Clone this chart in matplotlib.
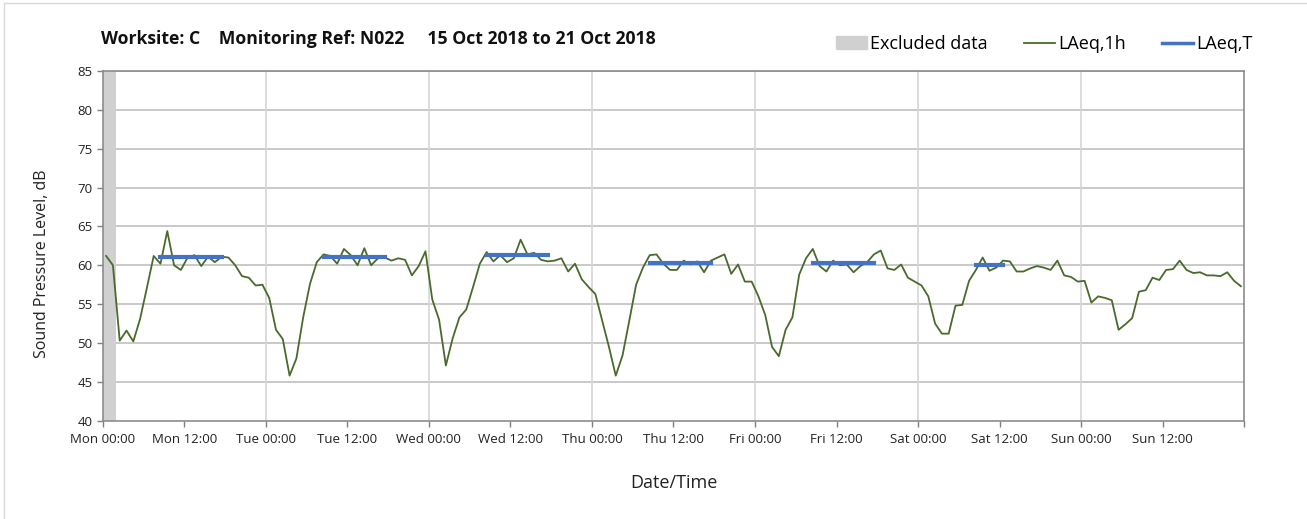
import matplotlib
matplotlib.use("Agg")
import matplotlib.pyplot as plt
import matplotlib.patches as mpatches
from matplotlib.lines import Line2D
import numpy as np

plt.rcParams['font.family'] = ['Open Sans', 'DejaVu Sans']

# hourly LAeq,1h values, Mon 00:00 -> Sun 23:00
laeq_1h = [
    61.2, 60.0, 50.3, 51.6, 50.2, 53.1, 57.1, 61.2, 60.2, 64.4,
    60.0, 59.4, 61.0, 61.3, 59.9, 61.1, 60.4, 61.1, 61.0, 60.0,
    58.6, 58.4, 57.4, 57.5, 55.8, 51.7, 50.5, 45.8, 48.0, 53.3,
    57.6, 60.4, 61.4, 61.2, 60.2, 62.1, 61.3, 60.0, 62.2, 60.0,
    60.9, 61.0, 60.6, 60.9, 60.7, 58.7, 59.9, 61.8, 55.6, 53.0,
    47.1, 50.6, 53.3, 54.3, 57.2, 60.2, 61.7, 60.5, 61.3, 60.4,
    60.9, 63.3, 61.4, 61.6, 60.7, 60.5, 60.6, 60.9, 59.2, 60.2,
    58.2, 57.2, 56.3, 52.9, 49.5, 45.8, 48.4, 52.9, 57.5, 59.7,
    61.3, 61.4, 60.2, 59.4, 59.4, 60.6, 60.1, 60.5, 59.1, 60.6,
    61.0, 61.4, 58.9, 60.1, 57.9, 57.9, 56.0, 53.6, 49.5, 48.3,
    51.7, 53.3, 58.8, 60.9, 62.1, 59.9, 59.2, 60.6, 60.0, 60.1,
    59.1, 59.9, 60.4, 61.4, 61.9, 59.6, 59.4, 60.1, 58.4, 57.9,
    57.4, 56.0, 52.5, 51.2, 51.2, 54.8, 54.9, 58.0, 59.4, 61.0,
    59.3, 59.7, 60.6, 60.5, 59.2, 59.2, 59.6, 59.9, 59.7, 59.4,
    60.6, 58.7, 58.5, 57.9, 58.0, 55.2, 56.0, 55.8, 55.5, 51.7,
    52.4, 53.2, 56.6, 56.8, 58.4, 58.1, 59.4, 59.5, 60.6, 59.4,
    59.0, 59.1, 58.7, 58.7, 58.6, 59.1, 58.0, 57.3,
]

# LAeq,T daytime periods (start hour, end hour, level)
period_start = [8, 32, 56, 80, 104, 128]
period_end = [17, 41, 65, 89, 113, 132]
period_level = [61.1, 61.1, 61.3, 60.3, 60.3, 60.0]

excluded_start = 0
excluded_end = 2

days = ['Mon', 'Tue', 'Wed', 'Thu', 'Fri', 'Sat', 'Sun']
tick_labels = []
for d in days:
    tick_labels.append(d + ' 00:00')
    tick_labels.append(d + ' 12:00')
tick_labels.append('')

green = '#4a6a2c'
blue = '#4472C4'
grey = '#d0d0d0'

fig = plt.figure(figsize=(13.07, 5.19), dpi=100)
ax = fig.add_axes([0.0786, 0.1894, 0.8734, 0.6738])

hours = np.arange(len(laeq_1h)) + 0.5
ax.axvspan(excluded_start, excluded_end, color=grey, lw=0, zorder=1)
ax.plot(hours, laeq_1h, color=green, lw=1.3, zorder=3)
for s, e, v in zip(period_start, period_end, period_level):
    ax.plot([s + 0.5, e + 0.5], [v, v], color=blue, lw=3, zorder=4,
            solid_capstyle='projecting')

ax.set_xlim(0, 168)
ax.set_ylim(40, 85)
ax.set_yticks(np.arange(40, 86, 5))
ax.set_xticks(np.arange(0, 169, 12))
ax.set_xticklabels(tick_labels)
ax.tick_params(axis='both', labelsize=9.5, colors='#7f7f7f', labelcolor='#222222',
               length=4, width=1)
ax.tick_params(axis='x', pad=5)

for y in range(45, 86, 5):
    ax.axhline(y, color='#c0c0c0', lw=1.2, zorder=0)
for x in range(24, 168, 24):
    ax.axvline(x, color='#d6d6d6', lw=1.2, zorder=0)
for sp in ax.spines.values():
    sp.set_color('#8c8c8c')
    sp.set_linewidth(1.2)

ax.set_ylabel('Sound Pressure Level, dB', fontsize=11.5, color='#222222')
ax.yaxis.set_label_coords(-0.046, 0.45)
ax.set_xlabel('Date/Time', fontsize=13, color='#222222', labelpad=20)

fig.text(0.077, 0.925, 'Worksite: C    Monitoring Ref: N022     15 Oct 2018 to 21 Oct 2018',
         fontsize=12.7, fontweight='bold', color='#111111', va='center')

handles = [mpatches.Patch(color=grey),
           Line2D([], [], color=green, lw=1.3),
           Line2D([], [], color=blue, lw=2.5)]
fig.legend(handles, ['Excluded data', 'LAeq,1h', 'LAeq,T'], loc='center right',
           bbox_to_anchor=(0.971, 0.915), ncol=3, frameon=False, fontsize=13,
           handlelength=1.7, handletextpad=0.2, columnspacing=2.0,
           handleheight=0.7)

# chart area border (left/top)
fig.add_artist(Line2D([0.003, 0.003], [0.0, 0.994], color='#d9d9d9', lw=1,
                      transform=fig.transFigure))
fig.add_artist(Line2D([0.003, 1.0], [0.994, 0.994], color='#d9d9d9', lw=1,
                      transform=fig.transFigure))

fig.savefig('out.png', dpi=100)
